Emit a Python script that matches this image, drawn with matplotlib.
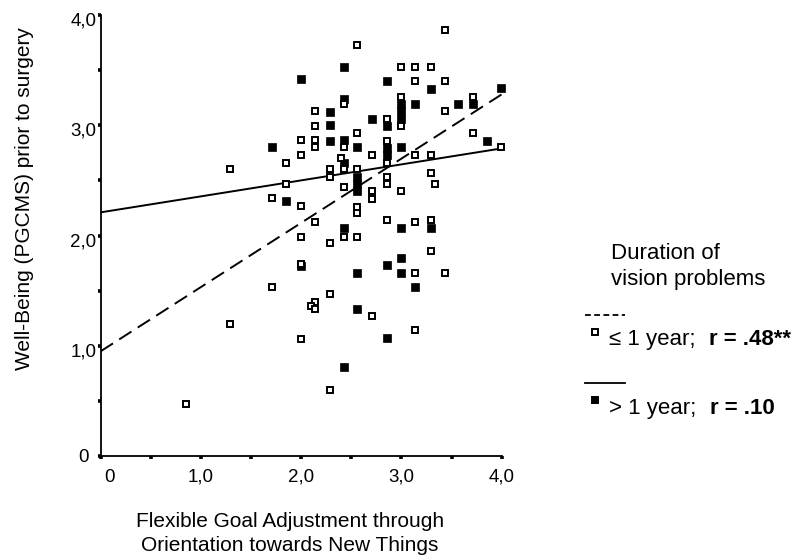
import matplotlib
matplotlib.use("Agg")
import matplotlib.pyplot as plt
from matplotlib.lines import Line2D
from matplotlib.text import Annotation
from matplotlib.legend_handler import HandlerBase
from matplotlib.transforms import ScaledTranslation

plt.rcParams['font.family'] = ['Liberation Sans', 'DejaVu Sans']

# duration > 1 year (filled squares)
long_x = [2.43, 2.00, 2.43, 2.29, 2.29, 2.29, 2.43, 1.71, 2.43,
          3.00, 3.00, 3.00, 3.14, 2.71, 2.86, 2.56, 2.86, 2.86, 3.00,
          2.56, 2.56, 2.56, 1.85, 2.86, 3.29, 3.99, 3.56, 3.71, 3.85,
          3.00, 3.29, 2.43, 3.00, 2.86, 2.56, 3.00, 3.14, 2.56, 2.86,
          2.43, 2.00]
long_y = [3.53, 3.42, 3.24, 3.12, 3.00, 2.86, 2.87, 2.80, 2.66,
          3.19, 3.13, 3.06, 3.19, 3.06, 2.99, 2.80, 2.79, 2.73, 2.80,
          2.53, 2.47, 2.40, 2.31, 3.40, 3.33, 3.34, 3.19, 3.19, 2.86,
          2.07, 2.07, 2.07, 1.80, 1.73, 1.66, 1.66, 1.53, 1.33, 1.07,
          0.81, 1.72]

# duration <= 1 year (open squares)
short_x = [2.43, 2.14, 2.14, 2.00, 2.14, 2.14, 2.43, 2.00, 1.85, 2.40,
           1.29, 2.29, 2.43, 3.00, 3.00, 2.86, 2.56, 2.71, 2.86, 2.86,
           3.14, 2.29, 2.56, 2.71, 2.71, 3.00, 2.86, 2.86, 2.43, 1.71,
           2.00, 2.56, 2.56, 3.43, 2.56, 3.00, 3.14, 3.29, 3.14, 3.43,
           3.71, 3.43, 3.71, 3.99, 3.29, 3.29, 3.33, 1.85, 2.86, 3.14,
           3.29, 2.43, 2.56, 3.29, 3.14, 3.43, 2.71, 3.14, 2.14, 2.00,
           2.29, 2.00, 1.71, 2.29, 2.14, 2.10, 2.14, 1.29, 2.00, 2.29,
           0.85]
short_y = [3.19, 3.13, 2.99, 2.87, 2.87, 2.80, 2.80, 2.73, 2.66, 2.70,
           2.60, 2.60, 2.60, 3.26, 2.99, 3.06, 2.93, 2.73, 2.86, 2.66,
           2.73, 2.53, 2.60, 2.40, 2.33, 2.40, 2.53, 2.47, 2.44, 2.34,
           2.27, 2.26, 2.20, 3.86, 3.73, 3.53, 3.53, 3.53, 3.40, 3.40,
           3.26, 3.13, 2.93, 2.80, 2.73, 2.57, 2.47, 2.47, 2.14, 2.12,
           2.14, 1.99, 1.99, 1.86, 1.66, 1.66, 1.27, 1.14, 2.12, 1.99,
           1.93, 1.74, 1.53, 1.47, 1.40, 1.36, 1.33, 1.20, 1.06, 0.60,
           0.47]

# regression lines, evaluated at both ends of the x range
fit_x = [0, 4]
fit_short = [0.95, 3.28]
fit_long = [2.21, 2.79]

tick_vals = [0, 1, 2, 3, 4]
tick_labels = ['0', '1,0', '2,0', '3,0', '4,0']
minor_vals = [0.5, 1.5, 2.5, 3.5]


class StackedHandler(HandlerBase):
    # line sample on top, marker underneath
    def __init__(self, dashed, filled):
        super().__init__()
        self.dashed = dashed
        self.filled = filled

    def create_artists(self, legend, orig_handle, xdescent, ydescent,
                       width, height, fontsize, trans):
        line = Line2D([0, 1.8 * fontsize], [1.38 * fontsize] * 2,
                      color='black', lw=1.3, transform=trans)
        if self.dashed:
            line.set_dashes((3.2, 1.9))
        mark = Line2D([0.45 * fontsize], [0.6 * fontsize], ls='none',
                      marker='s', ms=4.3, mew=1.4, mec='black',
                      mfc='black' if self.filled else 'white',
                      transform=trans)
        return [line, mark]


fig = plt.figure(figsize=(7.97, 5.58), dpi=100)
ax = fig.add_axes([100.7 / 797, 102 / 558, 401 / 797, 441 / 558])

ax.plot(long_x, long_y, ls='none', marker='s', ms=5.4, mew=0.5,
        mfc='black', mec='black', clip_on=False, zorder=3)
ax.plot(short_x, short_y, ls='none', marker='s', ms=4.5, mew=1.4,
        mfc='white', mec='black', clip_on=False, zorder=4)

dash_line, = ax.plot(fit_x, fit_short, color='black', lw=1.4, zorder=2)
dash_line.set_dashes((7.5, 3.8))
ax.plot(fit_x, fit_long, color='black', lw=1.4, zorder=2)

ax.set_xlim(0, 4)
ax.set_ylim(0, 4)
for side in ['top', 'right']:
    ax.spines[side].set_visible(False)
for side in ['left', 'bottom']:
    ax.spines[side].set_linewidth(1.3)

ax.set_xticks(tick_vals)
ax.set_xticklabels(tick_labels, fontsize=13.5)
ax.set_yticks(tick_vals)
ax.set_yticklabels(tick_labels, fontsize=13.5, ha='center')
ax.set_xticks(minor_vals, minor=True)
ax.set_yticks(minor_vals, minor=True)
ax.tick_params(which='both', direction='out', length=2.5, width=2.6,
               color='black')
ax.tick_params(axis='x', which='major', pad=6.5)
ax.tick_params(axis='y', which='major', pad=10)

# the "0" under the x axis sits a little right of its tick
lab0 = ax.get_xticklabels()[0]
lab0.set_transform(lab0.get_transform()
                   + ScaledTranslation(6 / 72, 0, fig.dpi_scale_trans))
# y tick labels hang slightly below their ticks
for lab in ax.get_yticklabels()[1:]:
    lab.set_transform(lab.get_transform()
                      + ScaledTranslation(0, -3 / 72, fig.dpi_scale_trans))

fig.text(24.5 / 797, 0.6434, 'Well-Being (PGCMS) prior to surgery',
         rotation=90, ha='center', va='center', fontsize=15)
fig.text(290 / 797, 0.006,
         'Flexible Goal Adjustment through\nOrientation towards New Things',
         ha='center', va='bottom', fontsize=15, linespacing=1.3)

fig.text(611 / 797, 0.564, 'Duration of\nvision problems',
         ha='left', va='top', fontsize=16, linespacing=1.32)

h_short = Line2D([], [])
h_long = Line2D([], [])
leg = fig.legend([h_short, h_long], ['\u2264 1 year;', '> 1 year;'],
                 handler_map={h_short: StackedHandler(True, False),
                              h_long: StackedHandler(False, True)},
                 loc='upper left', bbox_to_anchor=(585 / 797, 0.427),
                 frameon=False, fontsize=16, handlelength=1.0,
                 handleheight=2.2, handletextpad=0.1, labelspacing=1.4,
                 borderpad=0, borderaxespad=0)

# bold correlation next to each legend label
for txt, bold in zip(leg.get_texts(), ['r = .48**', 'r = .10']):
    ann = Annotation(bold, xy=(1, 0), xycoords=txt, xytext=(9.5, 0),
                     textcoords='offset points', ha='left', va='bottom',
                     fontsize=16, fontweight='bold', annotation_clip=False)
    ann.set_zorder(6)
    fig.add_artist(ann)

fig.savefig('out.png', dpi=100)
